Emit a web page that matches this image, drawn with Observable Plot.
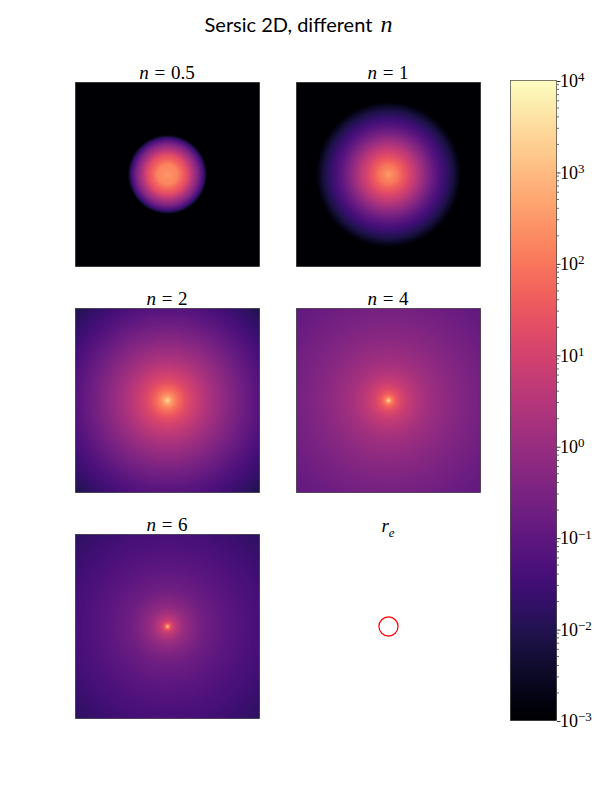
<!DOCTYPE html>
<html>
<head>
<meta charset="utf-8">
<script src="https://cdn.jsdelivr.net/npm/d3@7"></script>
<script src="https://cdn.jsdelivr.net/npm/@observablehq/plot@0.6"></script>
<style>
  html, body { margin: 0; padding: 0; background: #fff; }
  #fig { position: relative; width: 600px; height: 800px; overflow: hidden; }
  #fig svg { position: absolute; display: block; background: transparent; }
  .lab { position: absolute; font-family: "Liberation Serif", serif; font-size: 19px; line-height: 20px;
         text-align: center; color: #000; white-space: nowrap; word-spacing: 1px; }
  .lab sub { font-size: 13px; line-height: 0; }
  #title { position: absolute; left: 0; width: 597px; top: 11px; text-align: center;
           font-family: "Lato", sans-serif; font-size: 20px; line-height: 26px; color: #000; }
  #title i { font-family: "Liberation Serif", serif; font-size: 24px; margin-left: 3px; }
</style>
</head>
<body>
<div id="fig"></div>
<script>
// Radial brightness profiles estimated from the picture's colours:
// radius (in panel units) and log10 of brightness at that radius.
const radiiWide = [0, 0.1, 0.2, 0.5, 1, 2, 4, 6.5, 10, 14];
const radiiDisk = [0, 1.1, 2.2, 3.3, 3.9, 4.2, 4.35, 14];
const radiiExpo = [0, 1, 2, 3, 4, 5, 6, 7, 7.7, 8.1, 14];

const logN05 = [2.6, 2.2, 1.2, -0.4, -1.5, -2.5, -3.5, -3.5];
const logN1  = [2.75, 2.0, 1.3, 0.6, -0.2, -0.95, -1.55, -2.15, -2.75, -3.3, -3.5];
const logN2  = [3.7, 3.4, 3.0, 2.5, 2.0, 1.3, 0.5, -0.25, -1.15, -2.0];
const logN4  = [3.9, 3.4, 2.6, 1.9, 1.35, 0.8, 0.2, -0.2, -0.6, -0.95];
const logN6  = [3.6, 3.0, 1.9, 1.0, 0.5, -0.1, -0.7, -1.05, -1.4, -1.8];

const panelNames = ["0.5", "1", "2", "4", "6"];
const panelRadii = [radiiDisk, radiiExpo, radiiWide, radiiWide, radiiWide];
const panelLogs  = [logN05, logN1, logN2, logN4, logN6];
const panelLeft  = [75, 296, 75, 296, 75];
const panelTop   = [82, 82, 308, 308, 534];

const effectiveRadius = 1.04;
const extent = [-10, 10];
const colorDomain = [1e-3, 1e4];
const barDecades = [-3, -2, -1, 0, 1, 2, 3, 4];
const barMinor = barDecades.slice(0, -1).flatMap(d =>
  [2, 3, 4, 5, 6, 7, 8, 9].map(m => d + Math.log10(m)));

const side = 184;
const pad = 1;
const fig = document.getElementById("fig");
const color = {type: "log", scheme: "magma", domain: colorDomain, clamp: true};

function place(svg, left, top) {
  svg.style.left = left + "px";
  svg.style.top = top + "px";
  fig.appendChild(svg);
}
function label(html, cx, top) {
  const d = document.createElement("div");
  d.className = "lab";
  d.innerHTML = html;
  d.style.left = (cx - 60) + "px";
  d.style.width = "120px";
  d.style.top = top + "px";
  fig.appendChild(d);
}

const t = document.createElement("div");
t.id = "title";
t.innerHTML = "Sersic 2D, different <i>n</i>";
fig.appendChild(t);

const base = {
  width: side + 2 * pad, height: side + 2 * pad, margin: pad,
  x: {domain: extent, axis: null}, y: {domain: extent, axis: null}
};

panelNames.forEach((name, i) => {
  const profile = d3.scalePow().exponent(0.5).domain(panelRadii[i]).range(panelLogs[i]).clamp(true);
  const svg = Plot.plot({
    ...base,
    color,
    marks: [
      Plot.raster({
        x1: extent[0], x2: extent[1], y1: extent[0], y2: extent[1],
        pixelSize: 1,
        fill: (x, y) => 10 ** profile(Math.hypot(x, y))
      }),
      Plot.frame({stroke: "#000", strokeWidth: 0.8, strokeOpacity: 0.65})
    ]
  });
  place(svg, panelLeft[i] - pad - 0.5, panelTop[i] - pad - 0.5);
  label(`<i>n</i> = ${name}`, panelLeft[i] + side / 2, panelTop[i] - 19);
});

// r_e panel
const unitPx = side / (extent[1] - extent[0]);
place(Plot.plot({
  ...base,
  marks: [Plot.dot([{x: 0, y: 0}], {x: "x", y: "y", r: effectiveRadius * unitPx, stroke: "#ff0000", strokeWidth: 1.2, fill: "none"})]
}), 296 - pad - 0.5, 534 - pad - 0.5);
label(`<i>r<sub>e</sub></i>`, 388, 516);

// Colour bar
const barTop = 12;
const barSvg = Plot.plot({
  width: 46 + pad + 52, height: 640 + 2 * barTop,
  marginLeft: pad, marginRight: 52, marginTop: barTop, marginBottom: barTop,
  x: {domain: [0, 1], axis: null},
  y: {domain: [-3, 4]},
  color,
  marks: [
    Plot.raster({
      x1: 0, x2: 1, y1: -3, y2: 4,
      pixelSize: 1,
      fill: (x, y) => 10 ** y
    }),
    Plot.frame({stroke: "#000", strokeWidth: 0.8, strokeOpacity: 0.65}),
    Plot.axisY({anchor: "right", ticks: barMinor, tickSize: 2, text: null, strokeWidth: 0.6, label: null}),
    Plot.axisY({
      anchor: "right", ticks: barDecades, tickSize: 3.5, tickPadding: 0, strokeWidth: 0.8, label: null,
      tickFormat: d => String(d), dy: 1,
      fontSize: 18, fontFamily: "Liberation Serif, serif", fill: "#000", textAnchor: "start"
    })
  ]
});
place(barSvg, 510 - pad - 0.5, 80 - barTop - 0.5);
d3.select(barSvg).selectAll("text").each(function () {
  const e = this.textContent;
  if (!/^[−-]?\d+$/.test(e)) return;
  const s = d3.select(this);
  s.text("10");
  s.append("tspan").attr("dy", "-0.45em").attr("font-size", "13px").text(e.replace("-", "−"));
});
</script>
</body>
</html>
